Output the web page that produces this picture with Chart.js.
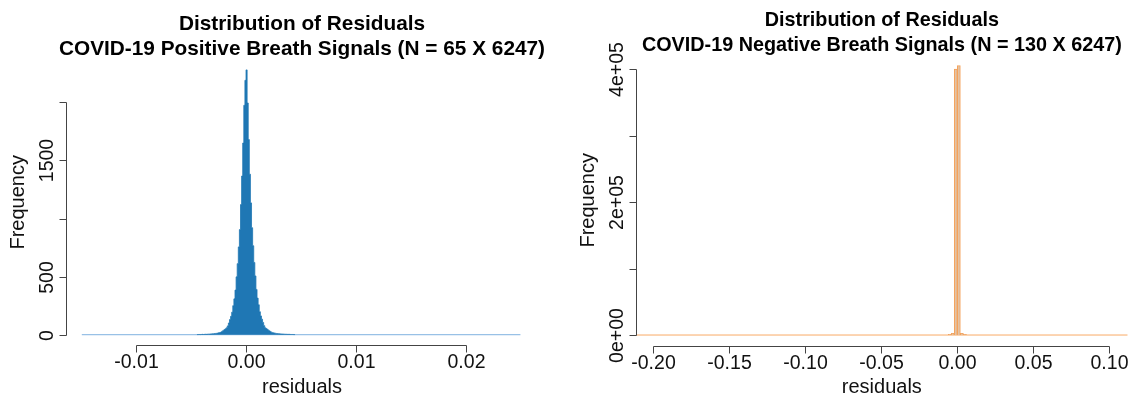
<!DOCTYPE html>
<html>
<head>
<meta charset="utf-8">
<script src="https://cdn.jsdelivr.net/npm/chart.js@4.4.1/dist/chart.umd.min.js"></script>
<style>
  html, body { margin: 0; padding: 0; background: #fff; }
  #wrap { position: relative; width: 1139px; height: 398px; }
  canvas { position: absolute; top: 0; }
  #posChart { left: 0; }
  #negChart { left: 570px; }
</style>
</head>
<body>
<div id="wrap">
  <canvas id="posChart" width="570" height="398"></canvas>
  <canvas id="negChart" width="569" height="398"></canvas>
</div>
<script>
// --- positive signals: fine bins around zero ---
const POS_BIN_START = -0.0045;
const POS_BIN_WIDTH = 0.0001;
const posCounts = [
  1, 1, 2, 1, 2, 3, 2, 3, 4, 3,
  5, 5, 6, 7, 8, 8, 10, 11, 12, 14,
  17, 19, 23, 30, 37, 44, 51, 60, 76, 101,
  130, 158, 194, 250, 309, 384, 498, 612, 756, 905,
  1120, 1366, 1650, 1975, 2190,
  2280, 1995, 1680, 1382, 1135, 921, 766, 622, 506, 390,
  315, 258, 198, 162, 134, 106, 78, 60, 53, 46,
  39, 32, 25, 20, 17, 15, 13, 11, 10, 9,
  8, 7, 6, 6, 5, 4, 4, 3, 3, 3,
  2, 2, 2, 1, 1
];
const posSpan = [-0.0149, 0.0249];        // outer breaks (empty bins = flat line)
const posXLimits = [-0.01638, 0.02654];
const posXTicks = [-0.01, 0, 0.01, 0.02];
const posXTickLabels = ['-0.01', '0.00', '0.01', '0.02'];
const posYTicks = [0, 500, 1000, 1500, 2000];
const posYTickLabels = ['0', '500', '', '1500', ''];

// --- negative signals: coarse bins ---
const negBinCenters = [-0.005, -0.003, -0.001, 0.001, 0.003, 0.005];
const negCounts = [900, 2600, 400500, 405600, 2600, 900];
const negSpan = [-0.2114, 0.1121];
const negXLimits = [-0.2114, 0.1121];
const negXTicks = [-0.20, -0.15, -0.10, -0.05, 0, 0.05, 0.10];
const negXTickLabels = ['-0.20', '-0.15', '-0.10', '-0.05', '0.00', '0.05', '0.10'];
const negYTicks = [0, 100000, 200000, 300000, 400000];
const negYTickLabels = ['0e+00', '', '2e+05', '', '4e+05'];

const FONT = '"Liberation Sans", Arial, Helvetica, sans-serif';

// R-style axes: lines only between first and last tick, outward ticks, rotated y labels
const rAxes = {
  id: 'rAxes',
  afterDraw(chart, args, o) {
    const ctx = chart.ctx, a = chart.chartArea;
    const xs = chart.scales.x, ys = chart.scales.y;
    ctx.save();
    ctx.strokeStyle = '#444';
    ctx.lineWidth = 1;
    ctx.fillStyle = '#111';

    // x axis
    const xb = Math.round(a.bottom) + 0.5;
    const xp = o.xTicks.map(v => Math.round(xs.getPixelForValue(v)) + 0.5);
    ctx.beginPath();
    ctx.moveTo(xp[0], xb); ctx.lineTo(xp[xp.length - 1], xb);
    xp.forEach(p => { ctx.moveTo(p, xb); ctx.lineTo(p, xb + 7); });
    ctx.stroke();
    ctx.font = '19.5px ' + FONT;
    ctx.textAlign = 'center';
    ctx.textBaseline = 'alphabetic';
    o.xTickLabels.forEach((t, i) => { if (t) ctx.fillText(t, xp[i], xb + 22.5); });
    ctx.font = '20px ' + FONT;
    ctx.fillText(o.xTitle, (a.left + a.right) / 2, 393);

    // y axis
    const yl = Math.round(a.left) + 0.5;
    const yp = o.yTicks.map(v => Math.round(ys.getPixelForValue(v)) + 0.5);
    ctx.beginPath();
    ctx.moveTo(yl, yp[0]); ctx.lineTo(yl, yp[yp.length - 1]);
    yp.forEach(p => { ctx.moveTo(yl, p); ctx.lineTo(yl - 7, p); });
    ctx.stroke();
    ctx.font = '19.5px ' + FONT;
    o.yTickLabels.forEach((t, i) => {
      if (!t) return;
      ctx.save();
      ctx.translate(a.left - 13, yp[i]);
      ctx.rotate(-Math.PI / 2);
      ctx.fillText(t, 0, 0);
      ctx.restore();
    });
    ctx.font = '20px ' + FONT;
    ctx.save();
    ctx.translate(a.left - 42, (a.top + a.bottom) / 2);
    ctx.rotate(-Math.PI / 2);
    ctx.fillText(o.yTitle, 0, 0);
    ctx.restore();

    // main title, two lines
    ctx.fillStyle = '#000';
    ctx.font = 'bold ' + o.titleSize + 'px ' + FONT;
    const cx = (a.left + a.right) / 2;
    ctx.fillText(o.title[0], cx, a.top - 29);
    ctx.fillText(o.title[1], cx, a.top - 4);
    ctx.restore();
  }
};

function histChart(id, histSet, span, xLim, peak, line, padding, axes) {
  return new Chart(document.getElementById(id), {
    type: 'bar',
    data: {
      datasets: [
        {
          type: 'line', data: span.map(x => ({ x, y: 0 })),
          borderColor: line, borderWidth: 1, pointRadius: 0, order: 2
        },
        Object.assign({ order: 1 }, histSet)
      ]
    },
    options: {
      responsive: false,
      animation: false,
      devicePixelRatio: 1,
      layout: { padding },
      scales: {
        x: { type: 'linear', min: xLim[0], max: xLim[1], offset: false, display: false },
        y: { type: 'linear', min: -0.04 * peak, max: 1.04 * peak, display: false }
      },
      plugins: { legend: { display: false }, tooltip: { enabled: false }, rAxes: axes }
    },
    plugins: [rAxes]
  });
}

// fine bins: a filled step outline (steps fall on the bin edges)
const posPoints = posCounts.map((y, i) => ({ x: POS_BIN_START + (i + 0.5) * POS_BIN_WIDTH, y }));
const negBars = negCounts.map((y, i) => ({ x: negBinCenters[i], y }));

histChart('posChart', {
    type: 'line', data: posPoints, stepped: 'middle',
    fill: 'origin', backgroundColor: '#1f77b4',
    borderColor: '#1f77b4', borderWidth: 0.8, pointRadius: 0
  }, posSpan, posXLimits, Math.max(...posCounts), '#7fb2e0',
  { left: 65.5, right: 31.5, top: 59.3, bottom: 52.7 },
  {
    xTicks: posXTicks, xTickLabels: posXTickLabels,
    yTicks: posYTicks, yTickLabels: posYTickLabels,
    xTitle: 'residuals', yTitle: 'Frequency', titleSize: 20.8,
    title: ['Distribution of Residuals', 'COVID-19 Positive Breath Signals (N = 65 X 6247)']
  });

histChart('negChart', {
    type: 'bar', data: negBars,
    backgroundColor: '#e2c3a6', borderColor: '#f5a25a', borderWidth: 1,
    barPercentage: 1, categoryPercentage: 1
  }, negSpan, negXLimits, Math.max(...negCounts), '#f9aa66',
  { left: 66, right: 11.3, top: 54.8, bottom: 52.2 },
  {
    xTicks: negXTicks, xTickLabels: negXTickLabels,
    yTicks: negYTicks, yTickLabels: negYTickLabels,
    xTitle: 'residuals', yTitle: 'Frequency', titleSize: 19.8,
    title: ['Distribution of Residuals', 'COVID-19 Negative Breath Signals (N = 130 X 6247)']
  });
</script>
</body>
</html>
